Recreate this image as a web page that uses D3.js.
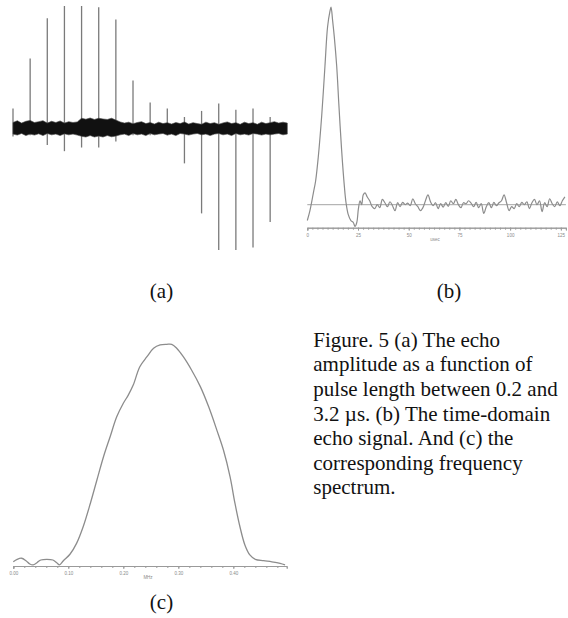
<!DOCTYPE html>
<html>
<head>
<meta charset="utf-8">
<script src="https://cdn.jsdelivr.net/npm/d3@7"></script>
<style>
body { margin: 0; background: #fff; }
svg { display: block; }
</style>
</head>
<body>
<div id="main"></div>
<script>
const ctx = {
    w: 568,
    h: 618,
    SERIF: "'Liberation Serif', 'Times New Roman', Times, serif",
    SPIKE_COLOR: "#7a7a7a",
    BAND_COLOR: "#111",
    CURVE_COLOR: "#8c8c8c",
    AXIS_COLOR: "#9a9a9a",
    FONT_SIZE: 21,
    LINE_H: 24.6,
};

// (a) echo amplitude vs pulse length
const PULSE_US = [0.2, 0.4, 0.6, 0.8, 1.0, 1.2, 1.4, 1.6, 1.8, 2.0, 2.2, 2.4, 2.6, 2.8, 3.0, 3.2];
const PEAK_POS = [0.16, 0.57, 0.90, 1.0, 1.0, 0.99, 0.89, 0.39, 0.21, 0.16, 0.09, 0.14, 0.20, 0.15, 0.16, 0.09];
const PEAK_NEG = [-0.07, -0.06, -0.14, -0.19, -0.16, -0.16, -0.11, -0.06, -0.06, -0.06, -0.29, -0.70, -1.0, -1.0, -0.98, -0.77];
// noise band envelope, sampled every 0.05 us from 0.2 us
const BAND_START = 0.2, BAND_STEP = 0.05;
const BAND_UPPER = [0.045, 0.06, 0.04, 0.055, 0.062, 0.045, 0.052, 0.06, 0.04, 0.055, 0.045, 0.058, 0.04, 0.052, 0.045, 0.05,
    0.08, 0.072, 0.082, 0.07, 0.08, 0.074, 0.07, 0.08, 0.065,
    0.05, 0.04, 0.048, 0.035, 0.045, 0.052, 0.036, 0.045, 0.032, 0.048, 0.036, 0.044, 0.032, 0.045, 0.036, 0.05, 0.032, 0.044,
    0.036, 0.03, 0.048, 0.036, 0.044, 0.03, 0.042, 0.05, 0.036, 0.044, 0.03, 0.048, 0.036, 0.044, 0.03, 0.048, 0.036,
    0.044, 0.052, 0.04, 0.048, 0.04];
const BAND_LOWER = [-0.05, -0.058, -0.045, -0.062, -0.05, -0.058, -0.048, -0.062, -0.045, -0.056, -0.05, -0.062, -0.048, -0.056, -0.05, -0.058,
    -0.068, -0.074, -0.062, -0.074, -0.066, -0.074, -0.062, -0.072, -0.066,
    -0.056, -0.05, -0.062, -0.045, -0.056, -0.05, -0.062, -0.045, -0.056, -0.05, -0.045, -0.058, -0.05, -0.062, -0.045, -0.05,
    -0.058, -0.05, -0.045, -0.056, -0.05, -0.062, -0.05, -0.045, -0.056, -0.05, -0.062, -0.045, -0.056, -0.05, -0.058,
    -0.045, -0.05, -0.058, -0.05, -0.056, -0.05, -0.045, -0.056, -0.05];

// (b) time-domain echo
const ECHO_T = [0, 1.3, 3.0, 4.1, 5.4, 7.1, 8.7, 10.0, 11.2, 11.7, 12.5, 13.3, 14.5, 15.6, 16.9, 18.3, 19.1, 20.2, 21.5, 22.7, 23.5, 24.4, 25.2, 26.0, 26.8, 27.6, 28.5];
const ECHO_V = [-0.08, -0.03, 0.06, 0.12, 0.24, 0.45, 0.70, 0.90, 0.98, 1.0, 0.93, 0.85, 0.70, 0.50, 0.28, 0.09, 0.01, -0.05, -0.08, -0.09, -0.11, -0.09, -0.02, 0.02, 0.0, 0.05, 0.06];
const NOISE_START = 29.5, NOISE_STEP = 1.25;
const NOISE_V = [0.04, 0.02, -0.01, -0.02, 0.0, -0.015, 0.027, 0.01, -0.01, 0.015, -0.005, -0.03, 0.01, -0.01, 0.012, 0.0,
    0.008, -0.005, 0.03, 0.005, -0.01, -0.03, -0.015, 0.02, 0.05, 0.015, -0.005, 0.01, -0.02, 0.005, -0.012, 0.01,
    -0.008, 0.02, 0.005, 0.027, 0.0, -0.015, 0.01, 0.005, 0.02, 0.008, -0.01, 0.012, -0.015, 0.005, -0.044, -0.01,
    0.01, -0.015, 0.012, -0.005, 0.01, 0.02, 0.05, 0.01, -0.03, -0.01, -0.02, 0.005, -0.01, 0.012, 0.0, 0.015,
    -0.02, 0.01, 0.027, 0.0, 0.02, -0.035, 0.01, -0.01, 0.03, 0.005, -0.01, 0.015, -0.005, 0.02, 0.04];
const ECHO_TICKS = [0, 25, 50, 75, 100, 125];

// (c) frequency spectrum
const SPEC_F = [0, 0.07, 0.15, 0.23, 0.30, 0.36, 0.43, 0.50, 0.61, 0.72, 0.79, 0.84, 0.91, 1.03, 1.15, 1.27, 1.40, 1.52,
    1.64, 1.76, 1.88, 2.0, 2.09, 2.18, 2.30, 2.43, 2.55, 2.67, 2.79, 2.88, 2.97, 3.09, 3.24, 3.40, 3.55, 3.70, 3.82,
    3.94, 4.03, 4.12, 4.21, 4.30, 4.40, 4.55, 4.70, 4.85, 4.94];
const SPEC_V = [0.019, 0.030, 0.035, 0.024, 0.009, 0.005, 0.015, 0.027, 0.030, 0.027, 0.015, 0.005, 0.024, 0.053, 0.102,
    0.177, 0.282, 0.388, 0.493, 0.583, 0.673, 0.734, 0.771, 0.816, 0.899, 0.944, 0.982, 0.997, 1.0, 1.0, 0.982, 0.944,
    0.884, 0.809, 0.719, 0.613, 0.523, 0.403, 0.282, 0.177, 0.095, 0.050, 0.030, 0.024, 0.019, 0.012, 0.005];
const SPEC_TICKS = [0, 1, 2, 3, 4];
const SPEC_TICK_LABELS = ["0.00", "0.10", "0.20", "0.30", "0.40"];

const CAPTION_LINES = [
    "Figure. 5 (a) The echo",
    "amplitude as a function of",
    "pulse length between 0.2 and",
    "3.2 \u00b5s. (b) The time-domain",
    "echo signal. And (c) the",
    "corresponding frequency",
    "spectrum."
];

function drawPanelA(svg) {
    let x = d3.scaleLinear().domain([0.2, 3.4]).range([13, 287.3]);
    let y = d3.scaleLinear().domain([-1, 1]).range([250, 6]);
    let g = svg.append("g").attr("id", "panelA");
    let band = BAND_UPPER.map((u, i) => ({ t: BAND_START + i * BAND_STEP, hi: u, lo: BAND_LOWER[i] }))
        .filter((d, i) => i < BAND_LOWER.length);
    // spikes first, the noise band goes on top
    g.selectAll("line.spike")
        .data(PULSE_US)
        .enter()
        .append("line")
        .classed("spike", true)
        .attr("x1", (d) => x(d))
        .attr("x2", (d) => x(d))
        .attr("y1", (d, i) => y(PEAK_POS[i]))
        .attr("y2", (d, i) => y(PEAK_NEG[i]))
        .attr("stroke", ctx.SPIKE_COLOR)
        .attr("stroke-width", 1.3);
    g.append("path")
        .datum(band)
        .attr("d", d3.area().x((d) => x(d.t)).y0((d) => y(d.lo)).y1((d) => y(d.hi)))
        .attr("fill", ctx.BAND_COLOR)
        .attr("stroke", "#444")
        .attr("stroke-width", 0.6)
        .attr("stroke-linejoin", "miter");
}

function drawPanelB(svg) {
    let x = d3.scaleLinear().domain([0, 127.5]).range([307.3, 565.9]);
    let y = d3.scaleLinear().domain([0, 1]).range([204.7, 7]);
    let g = svg.append("g").attr("id", "panelB");
    let pts = ECHO_T.map((t, i) => [t, ECHO_V[i]])
        .concat(NOISE_V.map((v, i) => [NOISE_START + i * NOISE_STEP, v]));
    // zero line
    g.append("line")
        .attr("x1", x(0)).attr("x2", x(127.5))
        .attr("y1", y(0)).attr("y2", y(0))
        .attr("stroke", ctx.AXIS_COLOR)
        .attr("stroke-width", 0.9);
    g.append("path")
        .datum(pts)
        .attr("d", d3.line().x((d) => x(d[0])).y((d) => y(d[1])).curve(d3.curveCatmullRom))
        .attr("fill", "none")
        .attr("stroke", ctx.CURVE_COLOR)
        .attr("stroke-width", 1.2);
    // time axis
    let axG = g.append("g").attr("transform", "translate(0,227.7)");
    axG.call(d3.axisBottom(x).tickValues(d3.range(0, 127.6, 2.5)).tickSize(2).tickFormat(""));
    axG.append("g").call(d3.axisBottom(x).tickValues(ECHO_TICKS).tickSize(3).tickPadding(3)
        .tickFormat((d) => d));
    styleAxis(axG);
    g.append("text")
        .attr("x", 435).attr("y", 240.5)
        .attr("text-anchor", "middle")
        .attr("font-size", 4.5)
        .attr("fill", "#8a8a8a")
        .attr("font-family", "Liberation Sans, Arial, sans-serif")
        .text("usec");
}

function drawPanelC(svg) {
    let x = d3.scaleLinear().domain([0, 4.97]).range([13.3, 286.7]);
    let y = d3.scaleLinear().domain([0, 1]).range([566, 344.3]);
    let g = svg.append("g").attr("id", "panelC");
    g.append("path")
        .datum(SPEC_F.map((f, i) => [f, SPEC_V[i]]))
        .attr("d", d3.line().x((d) => x(d[0])).y((d) => y(d[1])).curve(d3.curveCatmullRom))
        .attr("fill", "none")
        .attr("stroke", ctx.CURVE_COLOR)
        .attr("stroke-width", 1.3);
    let axG = g.append("g").attr("transform", "translate(0,566)");
    axG.call(d3.axisBottom(x).tickValues(d3.range(0, 4.97, 0.2)).tickSize(2).tickFormat(""));
    axG.append("g").call(d3.axisBottom(x).tickValues(SPEC_TICKS).tickSize(3).tickPadding(2.5)
        .tickFormat((d, i) => SPEC_TICK_LABELS[i]));
    styleAxis(axG);
    g.append("text")
        .attr("x", 148).attr("y", 578.5)
        .attr("text-anchor", "middle")
        .attr("font-size", 4.5)
        .attr("fill", "#8a8a8a")
        .attr("font-family", "Liberation Sans, Arial, sans-serif")
        .text("MHz");
}

function styleAxis(axG) {
    axG.selectAll("path.domain").attr("stroke", ctx.AXIS_COLOR).attr("stroke-width", 1);
    axG.selectAll("line").attr("stroke", ctx.AXIS_COLOR);
    axG.selectAll("text")
        .attr("font-size", 4.5)
        .attr("fill", "#8a8a8a")
        .attr("font-family", "Liberation Sans, Arial, sans-serif");
}

function drawText(svg) {
    let labels = [["(a)", 161.5, 298], ["(b)", 449, 298], ["(c)", 161.5, 609]];
    svg.selectAll("text.panelLabel")
        .data(labels)
        .enter()
        .append("text")
        .classed("panelLabel", true)
        .attr("x", (d) => d[1])
        .attr("y", (d) => d[2])
        .attr("text-anchor", "middle")
        .style("font-family", ctx.SERIF)
        .attr("font-size", ctx.FONT_SIZE)
        .attr("fill", "#111")
        .text((d) => d[0]);
    svg.append("g").attr("id", "caption")
        .selectAll("text")
        .data(CAPTION_LINES)
        .enter()
        .append("text")
        .attr("x", 313.3)
        .attr("y", (d, i) => 346.7 + i * ctx.LINE_H)
        .style("font-family", ctx.SERIF)
        .attr("font-size", ctx.FONT_SIZE)
        .attr("fill", "#111")
        .text((d) => d);
}

function createViz() {
    let svgEl = d3.select("#main").append("svg")
        .attr("width", ctx.w)
        .attr("height", ctx.h);
    drawPanelA(svgEl);
    drawPanelB(svgEl);
    drawPanelC(svgEl);
    drawText(svgEl);
}

createViz();
</script>
</body>
</html>
